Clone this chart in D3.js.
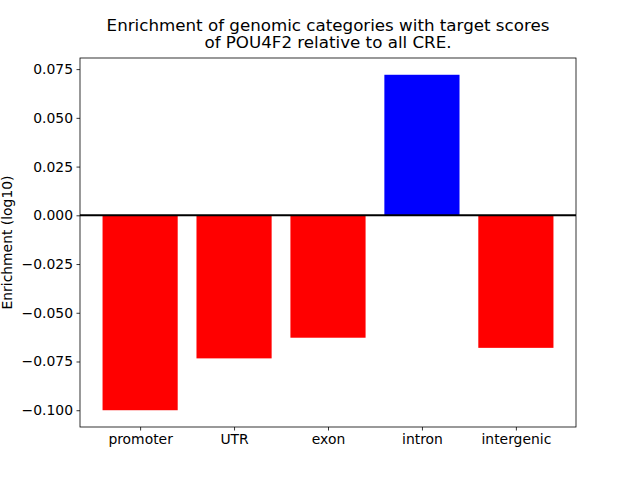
<!DOCTYPE html>
<html><head><meta charset="utf-8">
<script src="https://cdn.jsdelivr.net/npm/d3@7"></script>
<style>body{margin:0;background:#fff}svg{display:block;font-family:"DejaVu Sans",sans-serif}</style>
</head><body>
<svg id="c" width="640" height="480"></svg>
<script>
const categories = ["promoter","UTR","exon","intron","intergenic"];
const values = [-0.1000, -0.0734, -0.0628, 0.0721, -0.0680];
const yTicks = [-0.100,-0.075,-0.050,-0.025,0.000,0.025,0.050,0.075];
const titleLines = ["Enrichment of genomic categories with target scores","of POU4F2 relative to all CRE."];
const yLabel = "Enrichment (log10)";

const svg = d3.select("#c");
const L=80, R=576, T=58, B=427;
const x = d3.scaleLinear().domain([-0.64, 4.64]).range([L, R]);
const ymin = d3.min(values), ymax = d3.max(values), pad=(ymax-ymin)*0.05;
const y = d3.scaleLinear().domain([ymin-pad, ymax+pad]).range([B, T]);

svg.append("g").selectAll("rect").data(values).join("rect")
  .attr("x",(d,i)=>x(i-0.4)).attr("width",(d,i)=>x(i+0.4)-x(i-0.4))
  .attr("y",d=>y(Math.max(0,d))).attr("height",d=>Math.abs(y(d)-y(0)))
  .attr("fill",d=>d>0?"#0000ff":"#ff0000");

svg.append("line").attr("x1",L).attr("x2",R).attr("y1",y(0)).attr("y2",y(0))
  .attr("stroke","#000").attr("stroke-width",2);

const ya = svg.append("g").attr("transform",`translate(${L},0)`)
  .call(d3.axisLeft(y).tickValues(yTicks).tickFormat(d=>d3.format(".3f")(d).replace("-","\u2212")).tickSize(3.5).tickPadding(3.5));
const xa = svg.append("g").attr("transform",`translate(0,${B})`)
  .call(d3.axisBottom(x).tickValues(d3.range(categories.length)).tickFormat(i=>categories[i]).tickSize(3.5).tickPadding(3.5));
[ya,xa].forEach(a=>{a.select(".domain").remove();a.selectAll("text").attr("font-size",13.9).attr("fill","#000").attr("font-family","DejaVu Sans");a.selectAll("line").attr("stroke","#000").attr("stroke-width",0.8);});

svg.append("rect").attr("x",L).attr("y",T).attr("width",R-L).attr("height",B-T)
  .attr("fill","none").attr("stroke","#000").attr("stroke-width",0.8);

svg.append("text").attr("transform",`translate(7,${(T+B)/2}) rotate(-90)`)
  .attr("text-anchor","middle").attr("font-size",13.9).attr("dy","0.35em").text(yLabel);

svg.append("g").selectAll("text").data(titleLines).join("text")
  .attr("x",(L+R)/2).attr("y",(d,i)=>31+i*17).attr("text-anchor","middle")
  .attr("font-size",16.7).text(d=>d);
</script>
</body></html>
